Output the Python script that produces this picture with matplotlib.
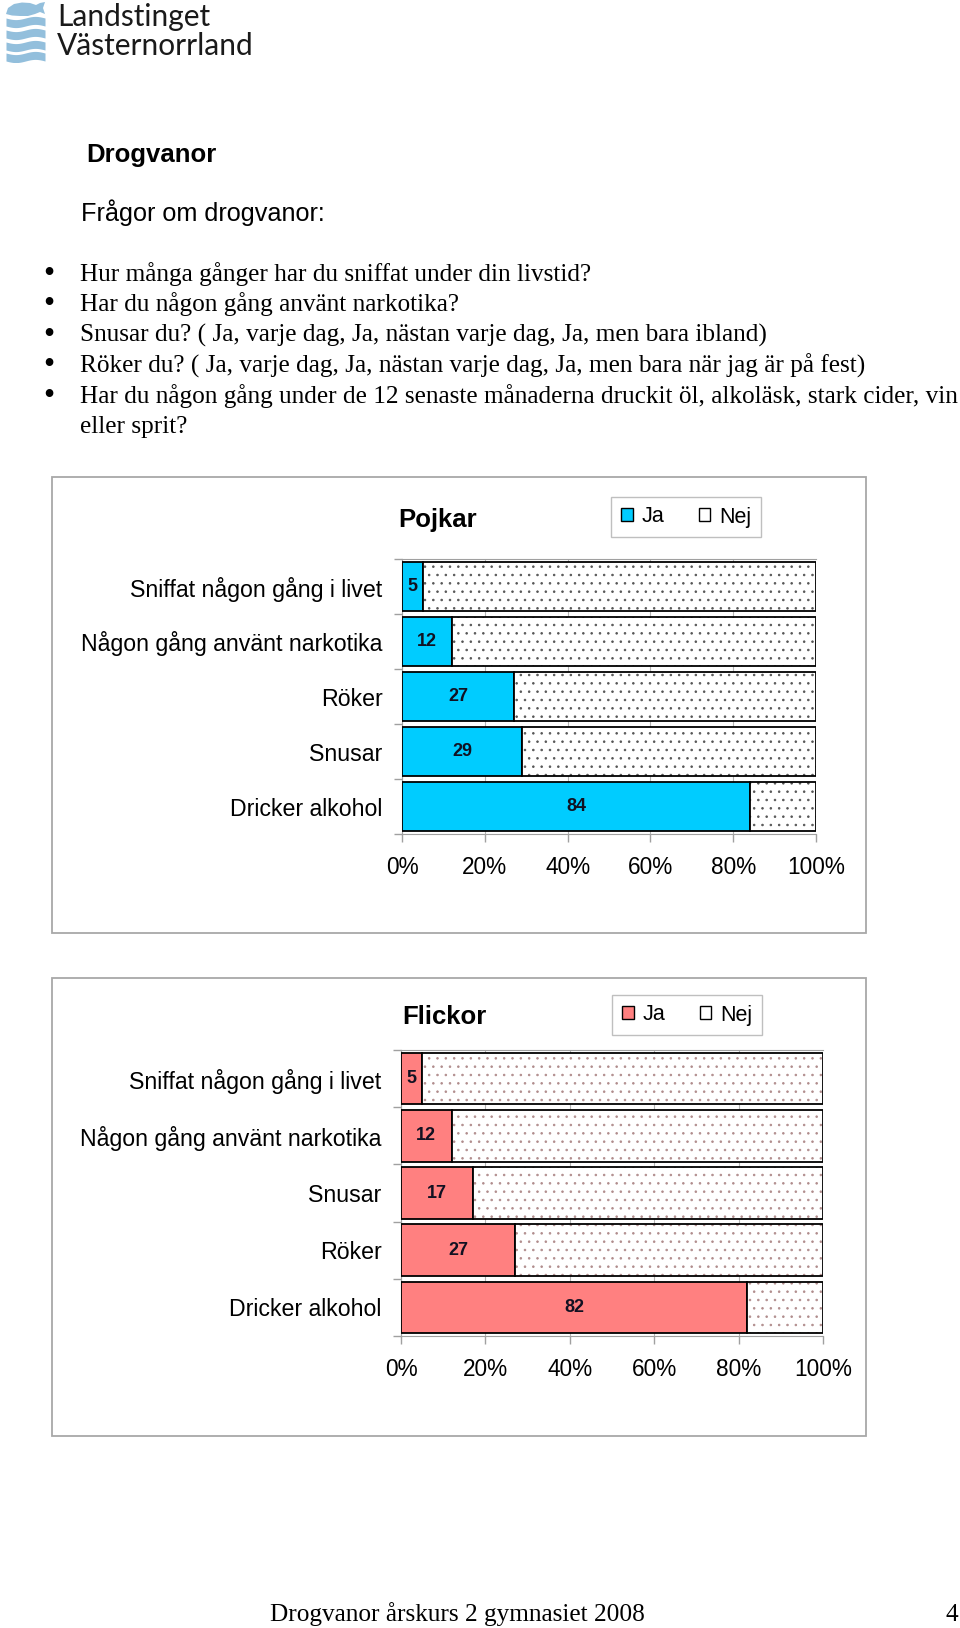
import matplotlib
matplotlib.use("Agg")
import matplotlib.pyplot as plt
from matplotlib.patches import Patch, Rectangle, Polygon
import numpy as np

W, H = 960, 1628
plt.rcParams['font.family'] = ['Liberation Sans', 'DejaVu Sans']
plt.rcParams['hatch.linewidth'] = 0.6

# ---------------- data ----------------
boys_categories = ["Sniffat någon gång i livet", "Någon gång använt narkotika",
                   "Röker", "Snusar", "Dricker alkohol"]
boys_ja = [5, 12, 27, 29, 84]
girls_categories = ["Sniffat någon gång i livet", "Någon gång använt narkotika",
                    "Snusar", "Röker", "Dricker alkohol"]
girls_ja = [5, 12, 17, 27, 82]
x_ticks = [0, 20, 40, 60, 80, 100]
x_tick_labels = ["0%", "20%", "40%", "60%", "80%", "100%"]
legend_labels = ["Ja", "Nej"]
bullet_lines = [
    "Hur många gånger har du sniffat under din livstid?",
    "Har du någon gång använt narkotika?",
    "Snusar du? ( Ja, varje dag, Ja, nästan varje dag, Ja, men bara ibland)",
    "Röker du? ( Ja, varje dag, Ja, nästan varje dag, Ja, men bara när jag är på fest)",
    "Har du någon gång under de 12 senaste månaderna druckit öl, alkoläsk, stark cider, vin",
    "eller sprit?",
]
bullet_marks = [True, True, True, True, True, False]

fig = plt.figure(figsize=(9.6, 16.28), dpi=100)


def fx(x):
    return x / W


def fy(y):
    return 1 - y / H


def px_axes(l, t, r, b):
    return fig.add_axes([fx(l), fy(b), (r - l) / W, (b - t) / H])


# ---------------- logo ----------------
lax = px_axes(2, 0, 48, 62)
lax.set_xlim(0, 46)
lax.set_ylim(62, 0)
lax.axis('off')
logo_blue = '#93bfdc'
fish = Polygon([(4, 14), (6, 8), (12, 4), (20, 2.5), (28, 3), (34, 5), (38, 3), (43, 2),
                (41, 8), (43, 14), (38, 12), (33, 14), (26, 16), (18, 16), (10, 15.5)],
               closed=True, facecolor=logo_blue, edgecolor='none')
lax.add_patch(fish)
xs = np.linspace(4, 43, 100)
for yc in [22, 34, 46, 57]:
    wave = 1.6 * np.sin((xs - 4) / 39 * 2 * np.pi)
    lax.fill_between(xs, yc - 4 + wave, yc + 4 + wave, color=logo_blue, lw=0)
fig.text(fx(57), fy(26), "Landstinget", fontsize=21.5, family=['Lato', 'DejaVu Sans'],
         color='#1a1a1a', ha='left', va='baseline')
fig.text(fx(57), fy(55), "Västernorrland", fontsize=21.5, family=['Lato', 'DejaVu Sans'],
         color='#1a1a1a', ha='left', va='baseline')

# ---------------- heading text ----------------
fig.text(fx(86), fy(155), "Drogvanor", fontsize=18.5, fontweight='bold', ha='left', va='center')
fig.text(fx(81), fy(213), "Frågor om drogvanor:", fontsize=18.2, ha='left', va='center')

serif = ['Liberation Serif', 'DejaVu Serif']
for i, (line, mark) in enumerate(zip(bullet_lines, bullet_marks)):
    yb = 281 + 30.4 * i
    if mark:
        fig.text(fx(49), fy(yb + 1), "•", fontsize=23, family=serif, ha='center', va='baseline')
    fig.text(fx(80), fy(yb), line, fontsize=18.2, family=serif, ha='left', va='baseline')

# footer
fig.text(fx(270), fy(1621), "Drogvanor årskurs 2 gymnasiet 2008", fontsize=18.2, family=serif,
         ha='left', va='baseline')
fig.text(fx(958), fy(1621), "4", fontsize=18.2, family=serif, ha='right', va='baseline')


# ---------------- charts ----------------
def draw_chart(box, axrect, title, title_xy, cats, ja, color, dotcolor, legend_center):
    l, t, r, b = box
    fig.patches.append(Rectangle((fx(l), fy(b)), (r - l) / W, (b - t) / H,
                                 transform=fig.transFigure, fill=False,
                                 edgecolor='#a8a8a8', lw=1.3, zorder=0))
    ax = px_axes(*axrect)
    y = np.arange(len(cats))
    nej = [100 - v for v in ja]
    ax.barh(y, ja, height=0.9, color=color, edgecolor='black', lw=1.3, zorder=3)
    ax.barh(y, nej, left=ja, height=0.9, color='white', edgecolor=dotcolor,
            hatch='..', lw=0, zorder=3)
    ax.barh(y, nej, left=ja, height=0.9, color='none', edgecolor='black', lw=1.3, zorder=4)
    for yi, v in zip(y, ja):
        ax.text(v / 2, yi, str(v), ha='center', va='center', fontsize=13,
                fontweight='bold', color='#111122', zorder=5)
    ax.set_xlim(0, 100)
    ax.set_ylim(len(cats) - 0.5, -0.5)
    ax.set_xticks(x_ticks, x_tick_labels)
    ax.set_yticks(y, cats)
    ax.set_yticks(np.arange(-0.5, len(cats)), minor=True)
    ax.tick_params(axis='y', which='major', length=0, pad=14, labelsize=16.7)
    ax.tick_params(axis='y', which='minor', length=6, color='#a0a0a0', width=1)
    ax.tick_params(axis='x', which='major', length=6, color='#a0a0a0', width=1,
                   pad=10, labelsize=16.3)
    ax.grid(axis='x', color='#b4b4b4', lw=0.8)
    ax.set_axisbelow(True)
    ax.spines['right'].set_visible(False)
    for s in ['left', 'bottom', 'top']:
        ax.spines[s].set_color('#a0a0a0')
    fig.text(fx(title_xy[0]), fy(title_xy[1]), title, fontsize=18.5, fontweight='bold',
             ha='center', va='center')
    handles = [Patch(facecolor=color, edgecolor='black', lw=1.0),
               Patch(facecolor='white', edgecolor='black', lw=1.0)]
    leg = ax.legend(handles, legend_labels, ncol=2, loc='center',
                    bbox_to_anchor=(fx(legend_center[0]), fy(legend_center[1])),
                    bbox_transform=fig.transFigure, fontsize=15.5, frameon=True,
                    fancybox=False, edgecolor='#b0b0b0', handlelength=0.55,
                    handleheight=0.55, handletextpad=0.4, columnspacing=1.6,
                    borderpad=0.45)
    leg.get_frame().set_linewidth(1.0)
    return ax


draw_chart((52, 477, 866, 933), (402, 559, 816, 834), "Pojkar", (438, 520),
           boys_categories, boys_ja, '#00ccff', '#555555', (686, 517))
draw_chart((52, 978, 866, 1436), (401, 1050, 823, 1336), "Flickor", (444, 1017),
           girls_categories, girls_ja, '#ff8080', '#b08c8c', (687, 1015))

fig.savefig("out.png", dpi=100)
